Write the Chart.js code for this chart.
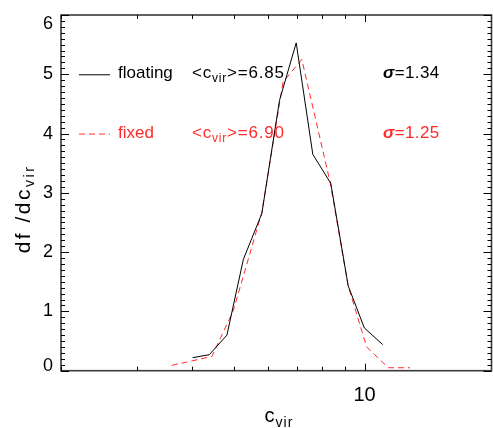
<!DOCTYPE html>
<html><head><meta charset="utf-8">
<script src="https://cdn.jsdelivr.net/npm/chart.js@4/dist/chart.umd.min.js"></script>
<style>html,body{margin:0;padding:0;background:#fff}#wrap{width:493px;height:428px}</style>
</head><body><div id="wrap"><canvas id="c" width="493" height="428"></canvas></div>
<script>
// ---- data ----
const floatingC = [4.02, 4.39, 4.82, 5.26, 5.80, 6.37, 6.96, 7.60, 8.36, 9.17, 9.99, 11.01];
const floatingF = [0.22, 0.27, 0.60, 1.88, 2.65, 4.56, 5.53, 3.65, 3.16, 1.43, 0.72, 0.44];
const fixedC = [3.60, 4.45, 4.99, 5.80, 6.49, 7.17, 8.33, 9.16, 10.11, 11.34, 12.72];
const fixedF = [0.09, 0.24, 1.02, 2.67, 4.87, 5.25, 3.18, 1.44, 0.40, 0.05, 0.05];
const xTickValues = [2, 3, 4, 5, 6, 7, 8, 9, 10];
const xLabelled = [10];
const yTickValues = [0, 1, 2, 3, 4, 5, 6];
const yMinorStep = 0.1;
const seriesNames = ['floating', 'fixed'];
const seriesMeans = ['6.85', '6.90'];
const seriesSigmas = ['1.34', '1.25'];
const legendRowsAt = [5, 4];

const F = '"Liberation Sans", Arial, sans-serif';
const RED = '#ff2b2b';
const colors = ['#000000', RED];
const dashes = [[], [6, 4]];

function toPts(xs, ys) { return xs.map((v, i) => ({x: v, y: ys[i]})); }

function drawParts(ctx, parts, x, y, align, spacing) {
  // parts: [text, size, dy, style]
  ctx.letterSpacing = (spacing || 0) + 'px';
  let w = 0;
  parts.forEach(p => { ctx.font = (p[3] || '') + ' ' + p[1] + 'px ' + F; w += ctx.measureText(p[0]).width; });
  let cx = align === 'center' ? x - w / 2 : x;
  ctx.textAlign = 'left';
  parts.forEach(p => {
    ctx.font = (p[3] || '') + ' ' + p[1] + 'px ' + F;
    ctx.fillText(p[0], cx, y + (p[2] || 0));
    cx += ctx.measureText(p[0]).width;
  });
  ctx.letterSpacing = '0px';
}

const frame = {
  id: 'frame',
  afterDraw(chart) {
    const {ctx, chartArea: a, scales: {x, y}} = chart;
    ctx.save();
    // frame
    ctx.strokeStyle = '#3a3a3a'; ctx.lineWidth = 1.6;
    ctx.strokeRect(a.left, a.top, a.right - a.left, a.bottom - a.top);
    // ticks
    ctx.strokeStyle = '#000'; ctx.lineWidth = 1;
    ctx.beginPath();
    xTickValues.forEach(v => {
      const px = Math.round(x.getPixelForValue(v)) + 0.5;
      const L = xLabelled.includes(v) ? 7 : 4;
      ctx.moveTo(px, a.bottom); ctx.lineTo(px, a.bottom - L);
      ctx.moveTo(px, a.top); ctx.lineTo(px, a.top + L);
    });
    const n = Math.round((y.max - y.min) / yMinorStep);
    for (let i = 0; i <= n; i++) {
      const v = y.min + i * yMinorStep;
      const py = Math.round(y.getPixelForValue(v)) + 0.5;
      const L = i % 10 === 0 ? 8 : 4;
      ctx.moveTo(a.left, py); ctx.lineTo(a.left + L, py);
      ctx.moveTo(a.right, py); ctx.lineTo(a.right - L, py);
    }
    ctx.stroke();
    // y tick labels
    ctx.fillStyle = '#000'; ctx.font = '18px ' + F;
    ctx.textAlign = 'right'; ctx.textBaseline = 'middle';
    yTickValues.forEach(v => {
      let py = y.getPixelForValue(v);
      py = Math.min(Math.max(py, a.top + 9), a.bottom - 5);
      ctx.fillText(String(v), a.left - 8, py);
    });
    // axis titles
    ctx.textBaseline = 'alphabetic';
    ctx.save();
    ctx.translate(30, 209);
    ctx.rotate(-Math.PI / 2);
    drawParts(ctx, [['df /dc', 21, 0], ['vir', 14, 4]], 0, 0, 'center', 2.5);
    ctx.restore();
    drawParts(ctx, [['c', 20, 0], ['vir', 14, 5]], 279, 422, 'center', 1);
    // legend
    seriesNames.forEach((nm, i) => {
      const py = y.getPixelForValue(legendRowsAt[i]);
      ctx.strokeStyle = colors[i]; ctx.lineWidth = 1; ctx.setLineDash(dashes[i]);
      ctx.beginPath(); ctx.moveTo(a.left + 18, py + 0.5); ctx.lineTo(a.left + 49, py + 0.5); ctx.stroke();
      ctx.setLineDash([]);
      ctx.fillStyle = colors[i];
      const base = py + 4;
      drawParts(ctx, [[nm, 17, 0]], a.left + 57, base, 'left');
      drawParts(ctx, [['<c', 17, 0], ['vir', 12, 4], ['>=' + seriesMeans[i], 17, 0]], a.left + 131, base, 'left', 0.8);
      drawParts(ctx, [['\u03c3', 17, 0, 'bold italic'], ['=' + seriesSigmas[i], 17, 0]], a.left + 322, base, 'left', 0.4);
    });
    ctx.restore();
  }
};

new Chart(document.getElementById('c'), {
  type: 'scatter',
  data: {
    datasets: [
      {label: seriesNames[0], data: toPts(floatingC, floatingF), showLine: true, borderColor: colors[0], borderWidth: 1, pointRadius: 0, tension: 0, fill: false},
      {label: seriesNames[1], data: toPts(fixedC, fixedF), showLine: true, borderColor: colors[1], borderWidth: 1, borderDash: dashes[1], pointRadius: 0, tension: 0, fill: false}
    ]
  },
  options: {
    responsive: false, animation: false,
    layout: {padding: {top: 15, right: 1.5, left: 0, bottom: 0}},
    plugins: {legend: {display: false}, tooltip: {enabled: false}},
    scales: {
      x: {
        type: 'logarithmic', min: 2, max: 19.6,
        grid: {display: false, drawTicks: false}, border: {display: false},
        ticks: {autoSkip: false, maxRotation: 0, padding: 13, color: '#000', font: {family: F, size: 20},
          callback: v => xLabelled.includes(v) ? String(v) : ''},
        afterFit: s => { s.height = 57.3; s.paddingLeft = 0; s.paddingRight = 0; }
      },
      y: {
        min: 0, max: 6,
        grid: {display: false, drawTicks: false}, border: {display: false},
        ticks: {display: false, stepSize: 1},
        afterFit: s => { s.width = 61; s.paddingTop = 0; s.paddingBottom = 0; }
      }
    }
  },
  plugins: [frame]
});
</script></body></html>
